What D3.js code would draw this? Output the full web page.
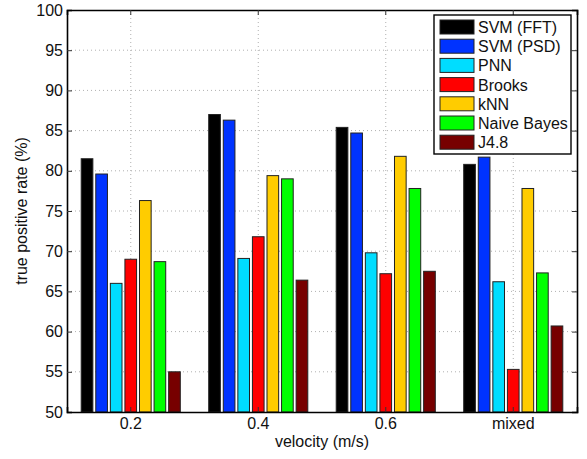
<!DOCTYPE html>
<html lang="en">
  <head>
    <meta charset="utf-8">
    <title>True positive rate by velocity</title>
    <script src="https://d3js.org/d3.v7.min.js"></script>
    <style>
      body { margin: 0; background: #fff; }
      svg text { font-family: "Liberation Sans", Arial, Helvetica, sans-serif; fill: #111; }
      .grid line { stroke: #b0b0b0; stroke-dasharray: 1,3; }
      .bar { stroke: #222; stroke-width: 1; }
    </style>
  </head>
  <body>
    <svg id="chart" width="587" height="459"></svg>

    <script type="text/javascript">
      // data
      var velocities = ["0.2", "0.4", "0.6", "mixed"];
      var classifiers = ["SVM (FFT)", "SVM (PSD)", "PNN", "Brooks", "kNN", "Naive Bayes", "J4.8"];
      var classifierColors = ["#000000", "#0033ff", "#00ddff", "#ff0000", "#ffcc00", "#00ff00", "#770000"];

      var svmFft     = [81.5, 87.0, 85.4, 80.8];
      var svmPsd     = [79.6, 86.3, 84.7, 81.7];
      var pnn        = [66.0, 69.1, 69.8, 66.2];
      var brooks     = [69.0, 71.8, 67.2, 55.3];
      var knn        = [76.3, 79.4, 81.8, 77.8];
      var naiveBayes = [68.7, 79.0, 77.8, 67.3];
      var j48        = [55.0, 66.4, 67.5, 60.7];

      var yTicks = [50, 55, 60, 65, 70, 75, 80, 85, 90, 95, 100];

      var seriesValues = [svmFft, svmPsd, pnn, brooks, knn, naiveBayes, j48];

      var svg = d3.select("#chart");
      var marginTop = 10, marginBottom = 47, marginLeft = 67, marginRight = 10;
      var width = +svg.attr("width") - marginLeft - marginRight;
      var height = +svg.attr("height") - marginTop - marginBottom;

      var canvas = svg.append("g")
        .attr("transform", "translate(" + marginLeft + "," + marginTop + ")");

      var x = d3.scaleBand()
        .domain(velocities)
        .range([0, width])
        .padding(0);

      // matlab style grouped bars: group uses 80% of the slot, each bar 80% of its sub slot
      var groupWidth = x.bandwidth() * 0.8;
      var xInner = d3.scaleBand()
        .domain(d3.range(classifiers.length))
        .range([-groupWidth / 2, groupWidth / 2])
        .paddingInner(0.2)
        .paddingOuter(0.1);

      var y = d3.scaleLinear()
        .domain([50, 100])
        .range([height, 0]);

      // dotted grid
      var grid = canvas.append("g").attr("class", "grid");
      grid.selectAll(".hgrid").data(yTicks.slice(1, -1)).enter().append("line")
        .attr("x1", 0).attr("x2", width)
        .attr("y1", function(d) { return y(d); })
        .attr("y2", function(d) { return y(d); });
      grid.selectAll(".vgrid").data(velocities).enter().append("line")
        .attr("y1", 0).attr("y2", height)
        .attr("x1", function(d) { return x(d) + x.bandwidth() / 2; })
        .attr("x2", function(d) { return x(d) + x.bandwidth() / 2; });

      // bars
      var rows = [];
      seriesValues.forEach(function(values, s) {
        values.forEach(function(v, g) {
          rows.push({ series: s, group: velocities[g], value: v });
        });
      });

      canvas.selectAll("rect.bar").data(rows).enter().append("rect")
        .attr("class", "bar")
        .attr("x", function(d) { return x(d.group) + x.bandwidth() / 2 + xInner(d.series); })
        .attr("width", xInner.bandwidth())
        .attr("y", function(d) { return y(d.value); })
        .attr("height", function(d) { return height - y(d.value); })
        .attr("fill", function(d) { return classifierColors[d.series]; });

      // axes with inward ticks on all four sides
      var tickColor = "#333";
      var leftAxis = canvas.append("g")
        .call(d3.axisLeft(y).tickValues(yTicks).tickSize(-5).tickPadding(4));
      var rightAxis = canvas.append("g")
        .attr("transform", "translate(" + width + ",0)")
        .call(d3.axisRight(y).tickValues(yTicks).tickSize(-5).tickFormat(""));
      var bottomAxis = canvas.append("g")
        .attr("transform", "translate(0," + height + ")")
        .call(d3.axisBottom(x).tickSize(-5).tickPadding(6));
      var topAxis = canvas.append("g")
        .call(d3.axisTop(x).tickSize(-5).tickFormat(""));

      [leftAxis, rightAxis, bottomAxis, topAxis].forEach(function(a) {
        a.select(".domain").attr("stroke", "#000").attr("stroke-width", 1.6);
        a.selectAll(".tick line").attr("stroke", tickColor);
        a.selectAll(".tick text").attr("font-size", 16).attr("fill", "#111")
          .style("font-family", "'Liberation Sans', Arial, sans-serif");
      });

      // axis titles
      canvas.append("text")
        .attr("x", width / 2)
        .attr("y", height + 35)
        .attr("text-anchor", "middle")
        .attr("font-size", 16)
        .text("velocity (m/s)");

      canvas.append("text")
        .attr("transform", "translate(" + (-marginLeft + 27) + "," + height / 2 + ") rotate(-90)")
        .attr("text-anchor", "middle")
        .attr("font-size", 16)
        .text("true positive rate (%)");

      // legend
      var legend = svg.append("g").attr("transform", "translate(434,15)");
      var rowStep = 19.2;
      legend.append("rect")
        .attr("width", 137)
        .attr("height", 139)
        .attr("fill", "#fff")
        .attr("stroke", "#000")
        .attr("stroke-width", 1.4);

      var items = legend.selectAll(".item").data(classifiers).enter().append("g")
        .attr("transform", function(d, i) { return "translate(6," + (5 + i * rowStep) + ")"; });
      items.append("rect")
        .attr("width", 34)
        .attr("height", 14)
        .attr("fill", function(d, i) { return classifierColors[i]; })
        .attr("stroke", "#222");
      items.append("text")
        .attr("x", 38)
        .attr("y", 13)
        .attr("font-size", 16)
        .text(function(d) { return d; });
    </script>
  </body>
</html>
